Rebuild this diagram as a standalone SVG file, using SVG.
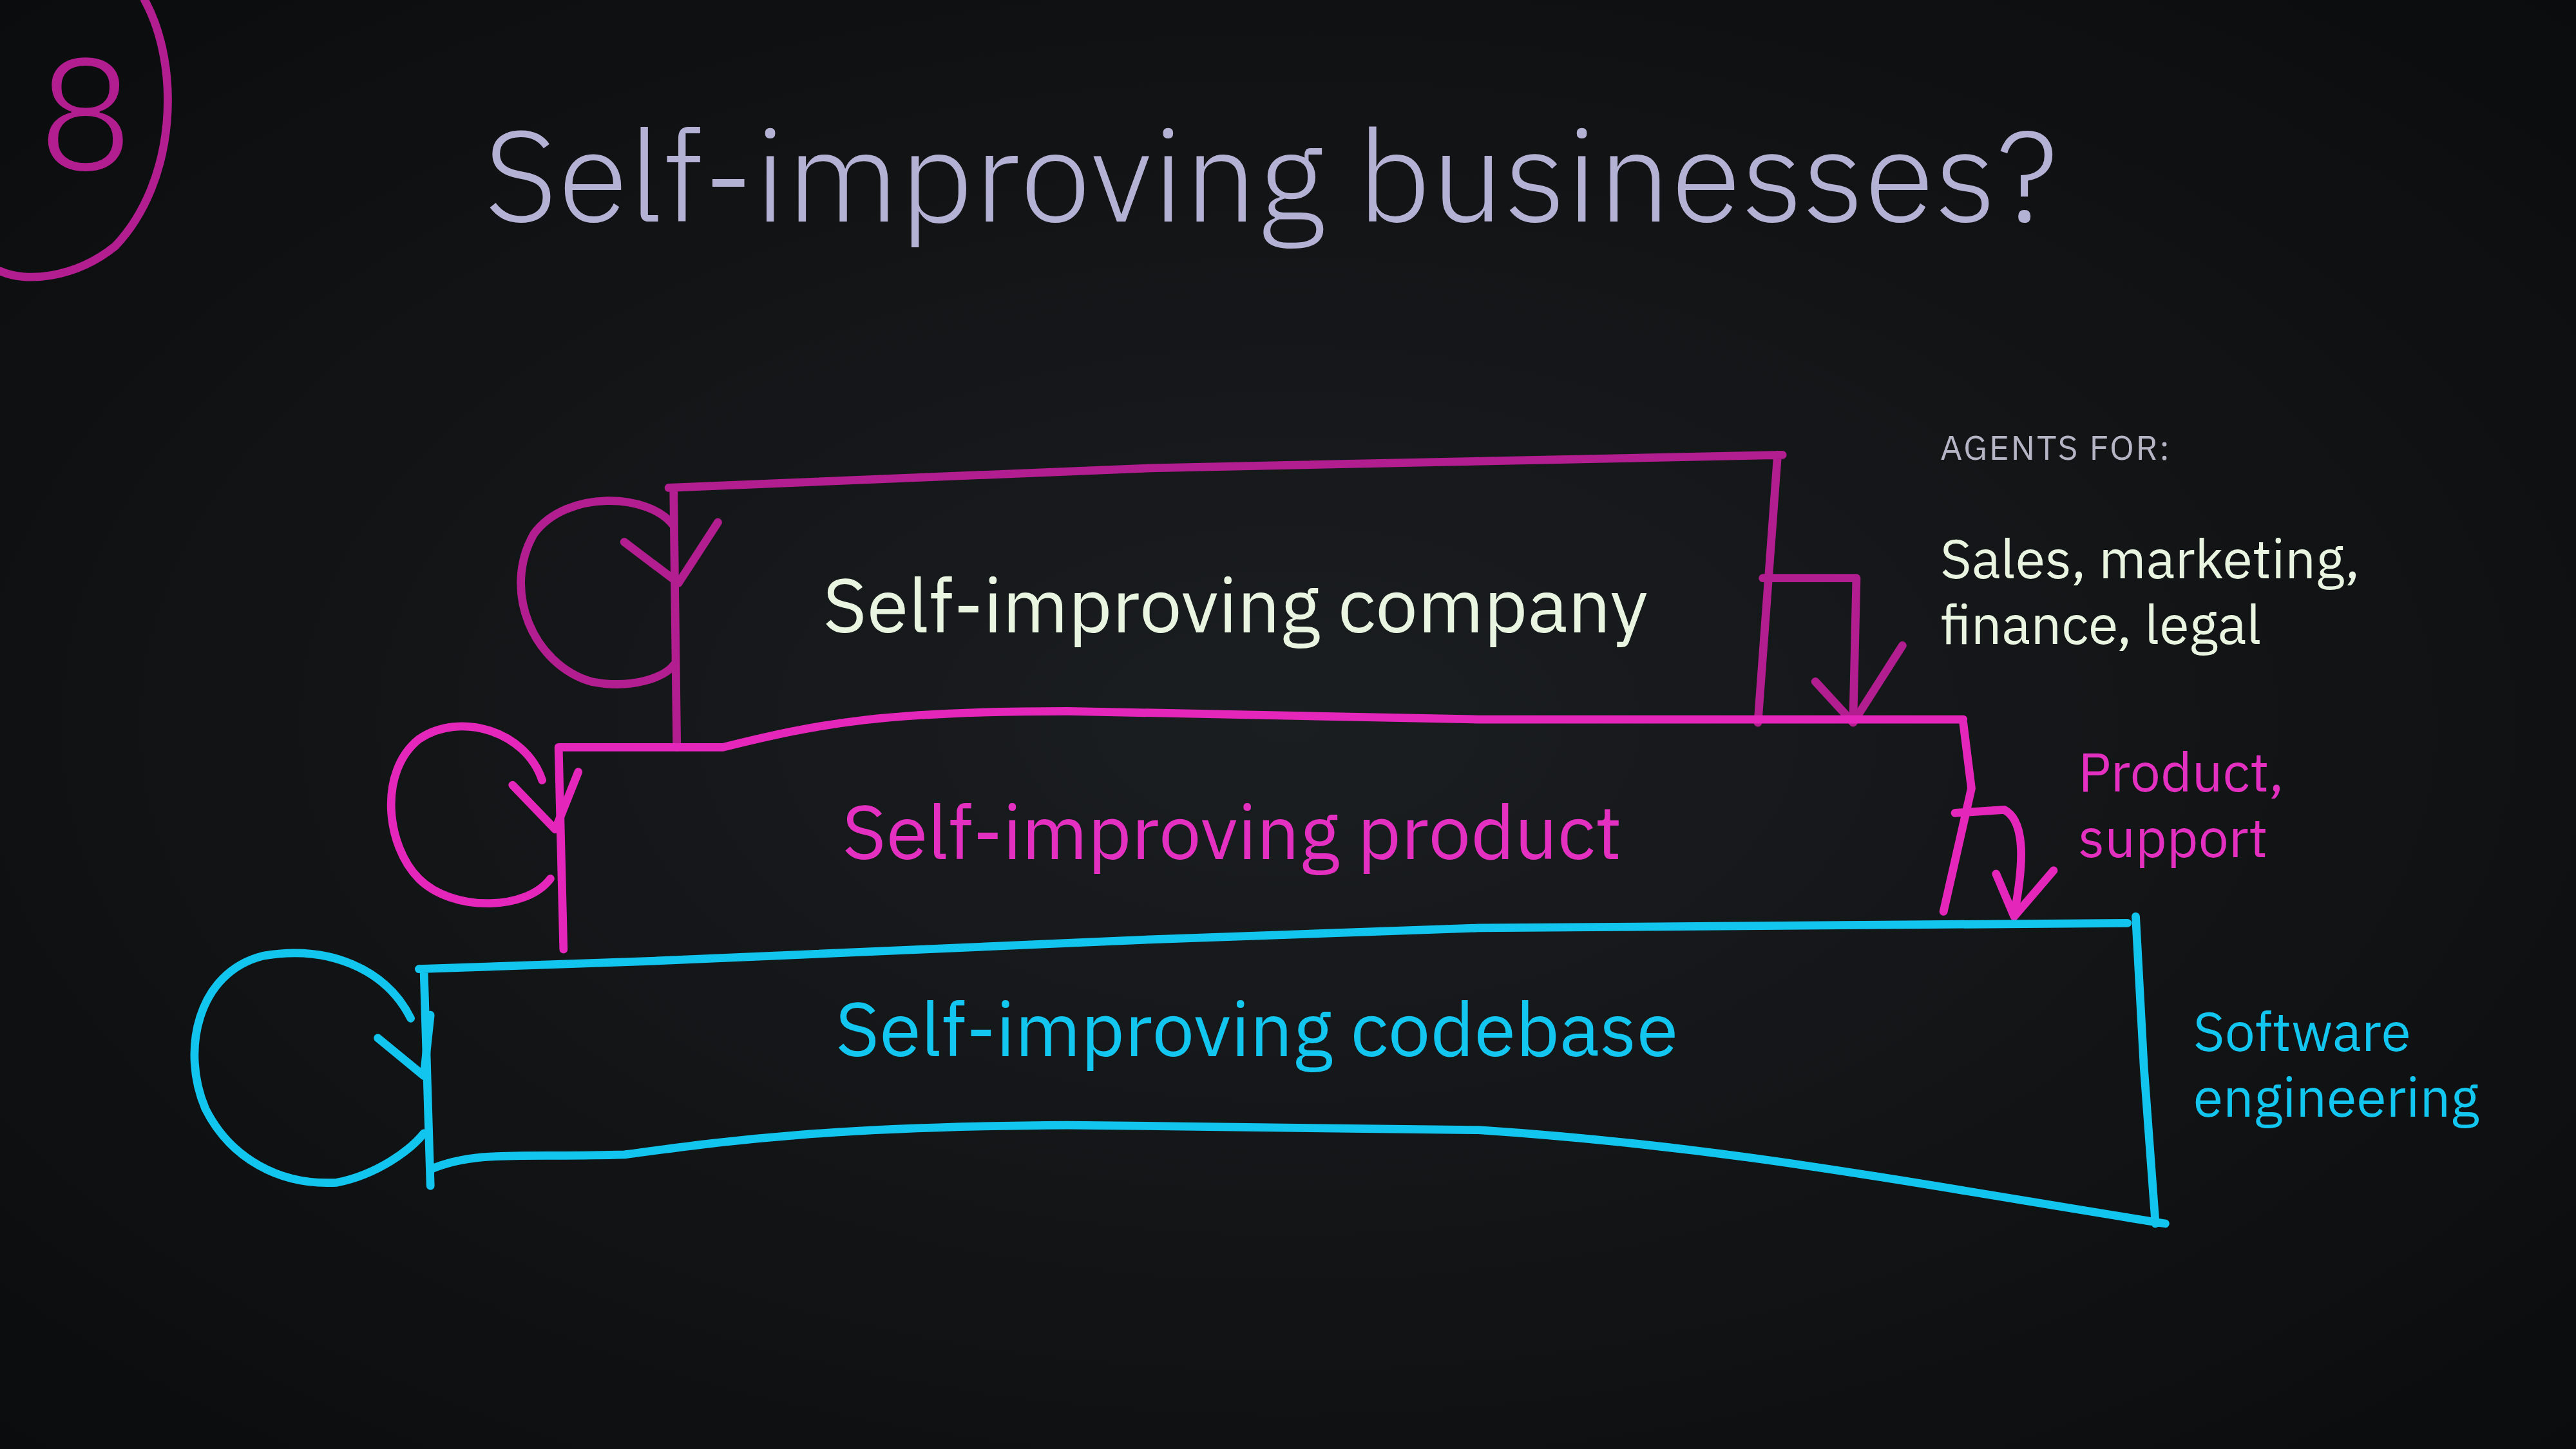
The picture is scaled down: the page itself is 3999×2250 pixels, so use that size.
<svg xmlns="http://www.w3.org/2000/svg" width="3999" height="2250" viewBox="0 0 3999 2250">
<defs>
<radialGradient id="bg" cx="0.5" cy="0.5" r="0.7">
<stop offset="0" stop-color="#1b1e20"/><stop offset="1" stop-color="#0a0c0d"/>
</radialGradient>
<style>
.t{font-family:"IBM Plex Sans","Open Sans","Noto Sans",sans-serif}
.ln{fill:none;stroke-width:5;stroke-linecap:round;stroke-linejoin:round}
.co{stroke:#b21d90}.pr{stroke:#e426bb}.cb{stroke:#12c5ef}
</style>
</defs>
<rect width="3999" height="2250" fill="url(#bg)"/>
<g transform="scale(2.5504)">
<g id="badge">
<path class="ln co" d="M88,0 C110,40 108,110 70,150 C45,170 15,172 0,165"/>
<text class="t" x="52" y="103" font-size="96" font-weight="300" fill="#b21d90" text-anchor="middle">8</text>
</g>
<text id="title" class="t" x="295" y="135" font-size="78" font-weight="300" fill="#b3b1d4" letter-spacing="0.5">Self-improving businesses?</text>
<g id="connectors">
<path class="ln co" d="M410,320 C395,300 345,298 325,325 C305,360 325,405 360,415 C385,420 405,412 410,405"/>
<path class="ln co" d="M380,330 L413,355 L437,318"/>
<path class="ln co" d="M1073,352 L1130,352 L1128,438"/>
<path class="ln co" d="M1105,415 L1128,440 L1158,393"/>
<path class="ln pr" d="M330,475 C320,445 280,433 255,450 C230,470 235,515 255,535 C275,555 320,555 335,535"/>
<path class="ln pr" d="M312,478 L338,505 L352,470"/>
<path class="ln pr" d="M1190,495 L1220,493 C1233,500 1232,525 1226,557"/>
<path class="ln pr" d="M1215,532 L1226,558 L1250,530"/>
<path class="ln cb" d="M250,620 C235,590 200,575 160,582 C120,592 110,640 125,675 C140,705 170,722 205,720 C230,715 250,700 258,690"/>
<path class="ln cb" d="M230,632 L258,655 L262,618"/>
</g>
<g id="company">
<path class="ln co" d="M407,297 L700,285 L1085,277 M1082,277 L1070,440 M410,297 L412,455"/>
<text class="t" x="752" y="385" font-size="46" fill="#e9f5e1" text-anchor="middle">Self-improving company</text>
</g>
<g id="product">
<path class="ln pr" d="M340,455 L440,455 C500,440 540,433 650,433 L900,438 L1195,438 M1195,440 L1200,480 L1183,555 M340,455 L343,578"/>
<text class="t" x="750" y="523" font-size="46" fill="#e330c0" text-anchor="middle">Self-improving product</text>
</g>
<g id="codebase">
<path class="ln cb" d="M255,590 L400,585 L700,572 L900,565 L1295,562 M1300,558 L1305,650 L1312,745 M258,590 L262,722 M262,712 C290,700 320,705 380,703 C440,695 500,686 650,685 L900,688 C1050,698 1150,718 1318,745"/>
<text class="t" x="765" y="643" font-size="46" fill="#13c6ef" text-anchor="middle">Self-improving codebase</text>
</g>
<g id="labels" class="t">
<text x="1181" y="280" font-size="21" fill="#b5b5c6" letter-spacing="1">AGENTS FOR:</text>
<text x="1181" y="352" font-size="33" fill="#e9f5e1">Sales, marketing,</text>
<text x="1181" y="392" font-size="33" fill="#e9f5e1">finance, legal</text>
<text x="1265" y="482" font-size="33" fill="#e330c0">Product,</text>
<text x="1265" y="522" font-size="33" fill="#e330c0">support</text>
<text x="1335" y="640" font-size="33" fill="#13c6ef">Software</text>
<text x="1335" y="680" font-size="33" fill="#13c6ef">engineering</text>
</g>
</g>
</svg>
